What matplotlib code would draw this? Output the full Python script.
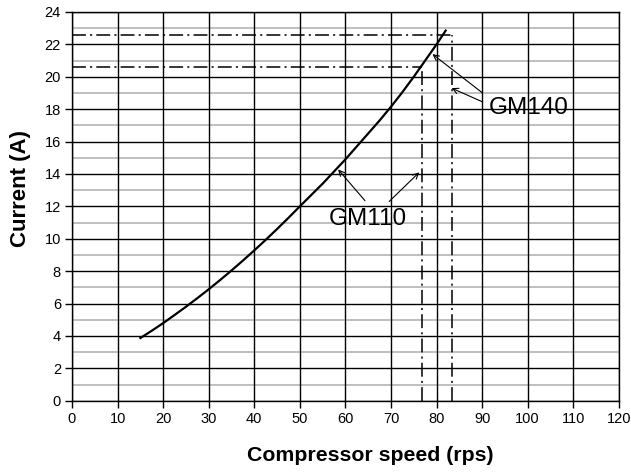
import numpy as np
import matplotlib
matplotlib.use("Agg")
import matplotlib.pyplot as plt

plt.rcParams['font.family'] = ['Liberation Sans', 'DejaVu Sans']
plt.rcParams['lines.scale_dashes'] = False

# compressor speed (rps) vs current (A)
speed = [15, 17.5, 20, 22.5, 25, 27.5, 30, 32.5, 35, 37.5, 40, 42.5, 45, 47.5, 50,
         52.5, 55, 57.5, 60, 62.5, 65, 67.5, 70, 72.5, 75, 77.5, 80, 82]
current = [3.87, 4.32, 4.79, 5.29, 5.80, 6.33, 6.88, 7.45, 8.04, 8.65, 9.28, 9.93, 10.60, 11.29, 12.00,
           12.70, 13.40, 14.15, 14.90, 15.70, 16.50, 17.30, 18.15, 19.05, 20.00, 21.00, 22.00, 22.85]

# max-current guide lines (speed, current) for the two models
gm110_limit = (76.7, 20.6)
gm140_limit = (83.4, 22.6)

x_ticks = list(range(0, 121, 10))
y_ticks = list(range(0, 25, 2))
y_minor = list(range(1, 24, 2))

fig = plt.figure(figsize=(6.31, 4.74), dpi=100)
ax = fig.add_axes([0.1141, 0.1546, 0.8666, 0.8201])

ax.set_xlim(0, 120)
ax.set_ylim(0, 24)

# grid: black major lines, grey minor horizontal lines
for v in y_minor:
    ax.axhline(v, color='#b4b4b4', lw=1.2, zorder=1)
for v in y_ticks:
    ax.axhline(v, color='black', lw=1.0, zorder=2)
for v in x_ticks:
    ax.axvline(v, color='black', lw=1.0, zorder=2)

ax.plot(speed, current, color='black', lw=1.6, zorder=4, solid_joinstyle='round')

dashdot = (0, (10, 3, 1.5, 3))
for sx, cy in (gm110_limit, gm140_limit):
    ax.plot([0, sx], [cy, cy], color='black', lw=1.1, linestyle=dashdot, zorder=3)
    ax.plot([sx, sx], [0, cy], color='black', lw=1.1, linestyle=dashdot, zorder=3)

arrow = dict(arrowstyle='->', color='black', lw=0.8, shrinkA=0, shrinkB=0)
ax.text(100.3, 18.05, 'GM140', fontsize=17.5, ha='center', va='center', zorder=5)
ax.annotate('', xy=(79.1, 21.4), xytext=(90.1, 19.0), arrowprops=arrow, zorder=5)
ax.annotate('', xy=(83.3, 19.3), xytext=(90.1, 18.45), arrowprops=arrow, zorder=5)
ax.text(65.0, 11.2, 'GM110', fontsize=17.5, ha='center', va='center', zorder=5)
ax.annotate('', xy=(58.4, 14.28), xytext=(64.3, 12.35), arrowprops=arrow, zorder=5)
ax.annotate('', xy=(76.2, 14.1), xytext=(69.6, 12.3), arrowprops=arrow, zorder=5)

ax.set_xticks(x_ticks)
ax.set_yticks(y_ticks)
ax.tick_params(direction='out', length=5, width=1.0, labelsize=10.5, pad=3)
for s in ax.spines.values():
    s.set_linewidth(1.0)
    s.set_zorder(6)

ax.set_xlabel('Compressor speed (rps)', fontsize=15.3, fontweight='bold')
ax.set_ylabel('Current (A)', fontsize=16, fontweight='bold')
ax.xaxis.set_label_coords(0.546, -0.142)
ax.xaxis.label.set_va('center')
ax.yaxis.set_label_coords(-0.095, 0.545)
ax.yaxis.label.set_va('center')

fig.savefig('out.png', dpi=100)
